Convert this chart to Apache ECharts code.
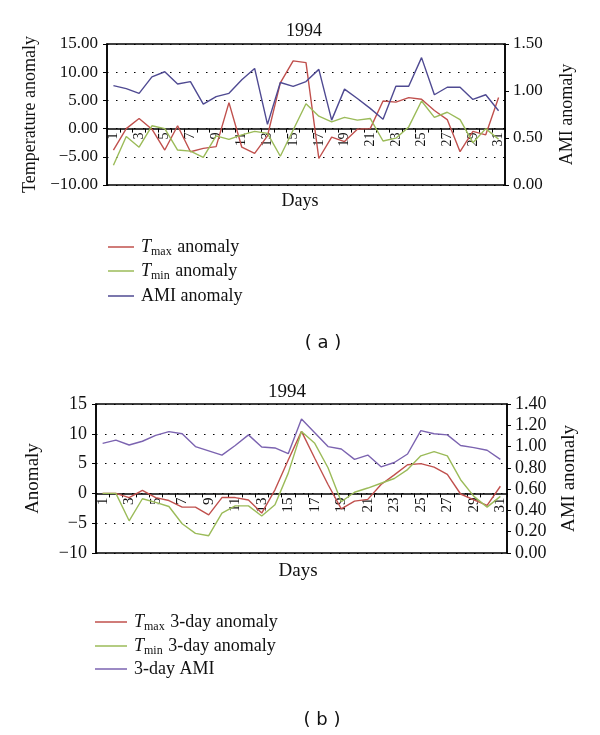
<!DOCTYPE html>
<html>
<head>
<meta charset="utf-8">
<script src="https://cdn.jsdelivr.net/npm/echarts@6/dist/echarts.min.js"></script>
<style>html,body{margin:0;padding:0;background:#fff}#c{width:600px;height:735px}</style>
</head>
<body>
<div id="c"></div>
<script>
const days = ['1','2','3','4','5','6','7','8','9','10','11','12','13','14','15','16','17','18','19','20','21','22','23','24','25','26','27','28','29','30','31'];

// Panel (a)
const tmaxAnom = [-3.8, 0, 1.8, -0.1, -3.8, 0.5, -4.1, -3.5, -3.2, 4.6, -3.3, -4.4, -1.3, 8.1, 12.0, 11.7, -5.3, -1.5, -2.3, -0.1, 0, 4.9, 4.7, 5.5, 5.2, 3.2, 1.6, -4.1, -0.5, -1.1, 5.5];
const tminAnom = [-6.5, -1.4, -3.3, 0.5, 0, -3.8, -4.0, -5.1, -1.3, -1.9, -1.1, -0.5, -0.85, -4.9, -0.25, 4.4, 2.2, 1.2, 2.0, 1.5, 1.8, -2.2, -1.7, 0.3, 4.9, 2.0, 2.9, 1.6, -2.5, 0, -1.9];
const amiAnom = [1.057, 1.025, 0.975, 1.15, 1.205, 1.075, 1.10, 0.86, 0.94, 0.975, 1.12, 1.24, 0.645, 1.09, 1.05, 1.10, 1.23, 0.69, 1.02, 0.92, 0.815, 0.70, 1.05, 1.05, 1.355, 0.96, 1.04, 1.04, 0.91, 0.96, 0.79];

// Panel (b)
const tmax3 = [0, 0, -0.7, 0.5, -0.7, -1.2, -2.3, -2.3, -3.6, -0.7, -0.7, -1.1, -3.3, 0.6, 5.6, 10.4, 5.9, 1.5, -2.6, -1.3, -1.0, 1.5, 3.1, 4.8, 5.0, 4.4, 3.2, -0.1, -1.1, -2.0, 1.2];
const tmin3 = [0, 0, -4.6, -0.9, -1.5, -2.2, -5.1, -6.7, -7.1, -3.3, -2.1, -2.1, -3.8, -1.9, 3.4, 10.4, 8.4, 4.3, -1.4, 0.2, 0.9, 1.7, 2.5, 4.0, 6.3, 7.0, 6.3, 2.3, -0.5, -2.3, -0.5];
const ami3 = [1.03, 1.06, 1.015, 1.05, 1.105, 1.14, 1.12, 1.0, 0.96, 0.92, 1.01, 1.11, 0.996, 0.987, 0.933, 1.26, 1.13, 1.0, 0.977, 0.88, 0.92, 0.81, 0.85, 0.93, 1.15, 1.12, 1.11, 1.01, 0.99, 0.965, 0.88];

const namesA = ['Tmax anomaly', 'Tmin anomaly', 'AMI anomaly'];
const namesB = ['Tmax 3-day anomaly', 'Tmin 3-day anomaly', '3-day AMI'];

const RED = '#c0504d', GREEN = '#9bbb59', PURPLE_A = '#4f4a92', PURPLE_B = '#7b63b0';
const SERIF = '"Liberation Serif", "DejaVu Serif", serif';
const SANS = '"DejaVu Sans", sans-serif';

function legendFmt(n) {
  if (n.indexOf('Tmax') === 0) return '{it|T}{sub|max}' + n.slice(4);
  if (n.indexOf('Tmin') === 0) return '{it|T}{sub|min}' + n.slice(4);
  return n;
}
const rich = {
  it: { fontStyle: 'italic', fontSize: 18, fontFamily: SERIF, color: '#111' },
  sub: { fontSize: 12, fontFamily: SERIF, color: '#111', padding: [10, 1, 0, 0] }
};
function mkLegend(name, left, top, iw, color) {
  return {
    data: [name], left: left, top: top, orient: 'vertical',
    icon: 'rect', itemWidth: iw, itemHeight: 1.5, padding: 0,
    itemStyle: { color: color },
    formatter: legendFmt,
    textStyle: { fontFamily: SERIF, fontSize: 18, color: '#111', rich: rich, padding: [0, 0, 0, 2] },
    selectedMode: false
  };
}
const minus = s => s.replace('-', '\u2212');

// offset moves the category axis up from the grid bottom to the y=0 line
function xAx(gi, fs, off) {
  return {
    type: 'category', gridIndex: gi, data: days, boundaryGap: true,
    position: 'bottom', offset: off,
    axisLine: { onZero: false, lineStyle: { color: '#000', width: 1.5 } },
    axisTick: { show: true, interval: 0, length: 4, lineStyle: { color: '#000' } },
    axisLabel: { interval: 1, rotate: 90, fontSize: fs, fontFamily: SERIF, color: '#111', margin: 4 },
    splitLine: { show: false }
  };
}
function yLeft(gi, name, fs, nfs, dec, gap) {
  return {
    type: 'value', gridIndex: gi, position: 'left', min: -10, max: 15, interval: 5,
    name: name, nameLocation: 'middle', nameGap: gap,
    nameTextStyle: { fontFamily: SERIF, fontSize: nfs, color: '#111' },
    axisLine: { show: true, onZero: false, lineStyle: { color: '#000', width: 1.5 } },
    axisTick: { show: true, length: 4, lineStyle: { color: '#000' } },
    axisLabel: { fontFamily: SERIF, fontSize: fs, color: '#111', margin: 9, formatter: v => minus(v.toFixed(dec)) },
    splitLine: { show: true, lineStyle: { color: '#000', type: [1.5, 7.5], width: 1.2 } }
  };
}
function yRight(gi, max, itv, fs, nfs, gap) {
  return {
    type: 'value', gridIndex: gi, position: 'right', min: 0, max: max, interval: itv,
    name: 'AMI anomaly', nameLocation: 'middle', nameGap: gap,
    nameTextStyle: { fontFamily: SERIF, fontSize: nfs, color: '#111' },
    axisLine: { show: true, onZero: false, lineStyle: { color: '#000', width: 1.5 } },
    axisTick: { show: true, length: 4, lineStyle: { color: '#000' } },
    axisLabel: { fontFamily: SERIF, fontSize: fs, color: '#111', margin: 8, formatter: v => v.toFixed(2) },
    splitLine: { show: false }
  };
}
function line(name, data, color, xi, yi) {
  return {
    type: 'line', name: name, data: data, xAxisIndex: xi, yAxisIndex: yi,
    showSymbol: false, symbol: 'none', animation: false,
    lineStyle: { color: color, width: 1.4 }, itemStyle: { color: color }
  };
}
function txt(t, x, y, fs, fam) {
  return { type: 'text', x: x, y: y, style: { text: t, font: fs + 'px ' + fam, fill: '#111', align: 'center', verticalAlign: 'middle' } };
}

const chart = echarts.init(document.getElementById('c'), null, { renderer: 'canvas' });
chart.setOption({
  backgroundColor: '#fff',
  animation: false,
  grid: [
    { left: 107, top: 44, width: 398, height: 141, show: true, borderColor: '#000', borderWidth: 1.5 },
    { left: 96, top: 404, width: 411, height: 149, show: true, borderColor: '#000', borderWidth: 1.5 }
  ],
  xAxis: [xAx(0, 14, -141 * 10 / 25), xAx(1, 15, -149 * 10 / 25)],
  yAxis: [
    yLeft(0, 'Temperature anomaly', 17, 18, 2, 64),
    yRight(0, 1.5, 0.5, 17, 18, 53),
    yLeft(1, 'Anomaly', 18, 19, 0, 53),
    yRight(1, 1.4, 0.2, 18, 19, 53)
  ],
  legend: [
    mkLegend(namesA[0], 108, 238, 26, RED),
    mkLegend(namesA[1], 108, 262, 26, GREEN),
    mkLegend(namesA[2], 108, 287, 26, PURPLE_A),
    mkLegend(namesB[0], 95, 613, 32, RED),
    mkLegend(namesB[1], 95, 637, 32, GREEN),
    mkLegend(namesB[2], 95, 660, 32, PURPLE_B)
  ],
  series: [
    line(namesA[0], tmaxAnom, RED, 0, 0),
    line(namesA[1], tminAnom, GREEN, 0, 0),
    line(namesA[2], amiAnom, PURPLE_A, 0, 1),
    line(namesB[0], tmax3, RED, 1, 2),
    line(namesB[1], tmin3, GREEN, 1, 2),
    line(namesB[2], ami3, PURPLE_B, 1, 3)
  ],
  graphic: [
    txt('1994', 304, 31, 18, SERIF),
    txt('Days', 300, 201, 18, SERIF),
    txt('( a )', 323, 343, 18, SANS),
    txt('1994', 287, 392, 19, SERIF),
    txt('Days', 298, 571, 19, SERIF),
    txt('( b )', 322, 720, 18, SANS)
  ]
});
</script>
</body>
</html>
